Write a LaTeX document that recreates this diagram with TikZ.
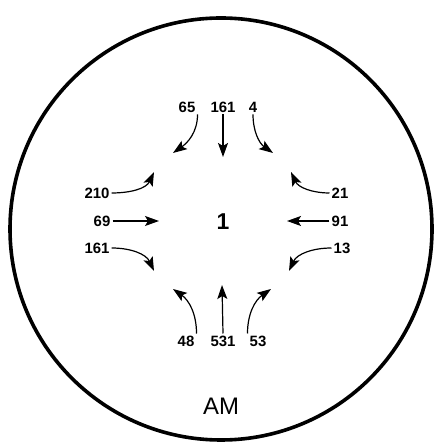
\documentclass[tikz,border=0pt]{standalone}
\usepackage{fontspec}
\setmainfont{Liberation Sans}
\usepackage{tikz}
\usetikzlibrary{arrows.meta,positioning}

\begin{document}
\begin{tikzpicture}[
    x=1bp, y=1bp,
    num/.style={font=\fontsize{15}{17}\selectfont\bfseries, inner sep=2bp},
    arr/.style={-{Stealth[length=14bp, width=10bp, inset=3bp]}, line width=1.2bp}
]
\useasboundingbox (0,0) rectangle (435,444);
\draw[line width=3.6bp] (221,215) circle (211);
\node[font=\fontsize{23}{25}\selectfont\bfseries] (ctr) at (223,222) {1};
\node[font=\fontsize{24}{26}\selectfont] (am) at (221,38) {AM};
% approaches from the north
\node[num] (n65) at (187,337) {65};
\node[num] (n161t) at (223,337) {161};
\node[num] (n4) at (253,337) {4};
\coordinate (t65) at (173,291);
\coordinate (t161t) at (223,287);
\coordinate (t4) at (273,291);
\draw[arr] (n65.south east) to[out=-90, in=35] (t65);
\draw[arr] (n161t.south) -- (t161t);
\draw[arr] (n4.south) to[out=-90, in=145] (t4);
% approaches from the west
\node[num] (n210) at (97,251) {210};
\node[num] (n69) at (102,223) {69};
\node[num] (n161l) at (97,196) {161};
\coordinate (t210) at (154,272);
\coordinate (t69) at (159,223);
\coordinate (t161l) at (154,173);
\draw[arr] (n210.east) to[out=0, in=-115] (t210);
\draw[arr] (n69.east) -- (t69);
\draw[arr] (n161l.east) to[out=0, in=115] (t161l);
% approaches from the east
\node[num] (n21) at (340,251) {21};
\node[num] (n91) at (340,223) {91};
\node[num] (n13) at (342,196) {13};
\coordinate (t21) at (291,272);
\coordinate (t91) at (287,223);
\coordinate (t13) at (289,173);
\draw[arr] (n21.west) to[out=180, in=-65] (t21);
\draw[arr] (n91.west) -- (t91);
\draw[arr] (n13.west) to[out=180, in=65] (t13);
% approaches from the south
\node[num] (n48) at (186,103) {48};
\node[num] (n531) at (223,103) {531};
\node[num] (n53) at (258,103) {53};
\coordinate (t48) at (173,155);
\coordinate (t531) at (222,159);
\coordinate (t53) at (271,155);
\draw[arr] (n48.north east) to[out=90, in=-35] (t48);
\draw[arr] (n531.north) -- (t531);
\draw[arr] (n53.north west) to[out=90, in=-145] (t53);
\end{tikzpicture}
\end{document}
